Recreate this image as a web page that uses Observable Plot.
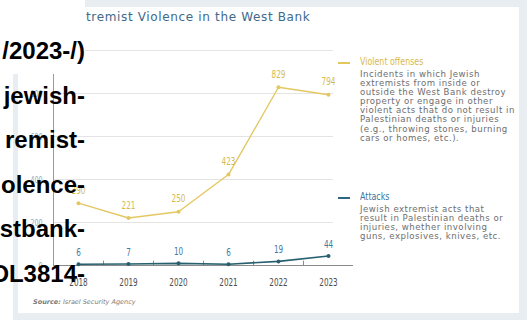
<!DOCTYPE html>
<html>
<head>
<meta charset="utf-8">
<script src="https://cdn.jsdelivr.net/npm/d3@7"></script>
<script src="https://cdn.jsdelivr.net/npm/@observablehq/plot@0.6"></script>
<style>
  html, body { margin: 0; padding: 0; background: #ffffff; width: 531px; height: 320px; overflow: hidden; position: relative; }
  .abs { position: absolute; }
  #frame { left: 13px; top: 0; width: 514px; height: 320px; background: #e8edf2; }
  #card { left: 18px; top: 7px; width: 501px; height: 306px; background: #ffffff; }
  #chart { left: 0; top: 0; }
  #title { left: 70px; top: 10px; font: 12px "DejaVu Sans", sans-serif; letter-spacing: 0.65px; color: #41698a; white-space: nowrap; }
  .leg { font-family: "DejaVu Sans", sans-serif; font-size: 8.6px; letter-spacing: 0.5px; line-height: 9.1px; color: #6e6e6e; white-space: nowrap; }
  .legtitle { font-family: "DejaVu Sans", sans-serif; font-size: 11px; white-space: nowrap; transform: scaleX(0.72); transform-origin: 0 50%; }
  .dash { height: 2px; width: 12px; }
  #source { left: 33px; top: 298px; font: italic 6.5px "DejaVu Sans", sans-serif; color: #7a7a7a; white-space: nowrap; }
  #whitebox { left: 0; top: 0; width: 85px; height: 74px; background: #ffffff; }
  .over { position: absolute; right: 446px; white-space: nowrap; font: bold 24px "Liberation Sans", Arial, sans-serif; line-height: 24px; color: #000; }
</style>
</head>
<body>
<div id="frame" class="abs"></div>
<div id="card" class="abs"></div>
<div id="title" class="abs">Extremist Violence in the West Bank</div>
<div id="chart" class="abs"></div>
<div id="legend1" class="abs" style="left:338px; top:56px;">
  <div class="dash abs" style="left:0; top:6px; background:#e2c75c;"></div>
  <div class="legtitle abs" style="left:22px; top:-1px; color:#d8b94a;">Violent offenses</div>
  <div class="leg abs" style="left:22px; top:14px;">Incidents in which Jewish<br>extremists from inside or<br>outside the West Bank destroy<br>property or engage in other<br>violent acts that do not result in<br>Palestinian deaths or injuries<br>(e.g., throwing stones, burning<br>cars or homes, etc.).</div>
</div>
<div id="legend2" class="abs" style="left:338px; top:191px;">
  <div class="dash abs" style="left:0; top:6px; background:#2c6680;"></div>
  <div class="legtitle abs" style="left:22px; top:-1px; color:#3c74a0;">Attacks</div>
  <div class="leg abs" style="left:22px; top:14px;">Jewish extremist acts that<br>result in Palestinian deaths or<br>injuries, whether involving<br>guns, explosives, knives, etc.</div>
</div>
<div id="source" class="abs"><b>Source:</b> Israel Security Agency</div>
<div id="whitebox" class="abs"></div>
<div class="over" style="top:39px;">/2023-/)</div>
<div class="over" style="top:84px;">jewish-</div>
<div class="over" style="top:128px;">remist-</div>
<div class="over" style="top:173px;">olence-</div>
<div class="over" style="top:217px;">stbank-</div>
<div class="over" style="top:262px;">DL3814-</div>
<script>
const years = [2018, 2019, 2020, 2021, 2022, 2023];
const violentOffenses = [290, 221, 250, 423, 829, 794];
const attacks = [6, 7, 10, 6, 19, 44];
const yTicks = [0, 200, 400, 600, 800, 1000];
const gridValues = [200, 400, 600, 800, 1000];
const yearBounds = [2018.5, 2019.5, 2020.5, 2021.5, 2022.5];

const table = years.map((year, i) => ({year, violent: violentOffenses[i], attacks: attacks[i]}));

const labelFont = "'DejaVu Sans',sans-serif";
const gold = "#e3c862";
const goldText = "#d6bb4c";
const teal = "#27606f";
const attackText = "#4679a3";
const xMin = 2017.5, xMax = 2023.5, gridEnd = 2023.1;

const chart = Plot.plot({
  width: 531,
  height: 320,
  marginLeft: 53,
  marginRight: 178,
  marginTop: 50,
  marginBottom: 55,
  x: {domain: [xMin, xMax], axis: null, label: null},
  y: {domain: [0, 1000], axis: null, label: null},
  style: {background: "transparent", overflow: "visible"},
  marks: [
    Plot.ruleY(gridValues, {x1: xMin, x2: gridEnd, stroke: "#e4e4e4", strokeWidth: 1}),
    Plot.axisY(yTicks, {className: "cond", tickSize: 0, tickPadding: 11, label: null, tickFormat: d3.format(","), fill: "#8fadc6", fontSize: 9.5, fontFamily: labelFont}),
    Plot.ruleX([xMin], {y1: 0, y2: 1000, stroke: "#9a9a9a", strokeWidth: 1}),
    Plot.ruleY([0], {x1: xMin, x2: xMax, stroke: "#8a8a8a", strokeWidth: 1}),
    Plot.ruleX(yearBounds, {y1: 0, y2: 20, stroke: "#8a8a8a", strokeWidth: 1}),
    Plot.axisX(years, {className: "cond", tickSize: 0, tickPadding: 13, label: null, tickFormat: d => String(d), fill: "#4d4d4d", fontSize: 11, fontFamily: labelFont}),
    Plot.line(table, {x: "year", y: "violent", stroke: gold, strokeWidth: 1.4}),
    Plot.dot(table, {x: "year", y: "violent", r: 2, fill: gold, stroke: "none"}),
    Plot.text(table, {className: "cond", x: "year", y: "violent", text: d => String(d.violent), dy: -13, fill: goldText, fontSize: 11, fontFamily: labelFont}),
    Plot.line(table, {x: "year", y: "attacks", stroke: teal, strokeWidth: 1.6}),
    Plot.dot(table, {x: "year", y: "attacks", r: 2, fill: teal, stroke: "none"}),
    Plot.text(table, {className: "cond", x: "year", y: "attacks", text: d => String(d.attacks), dy: -12, fill: attackText, fontSize: 11, fontFamily: labelFont})
  ]
});
document.getElementById("chart").appendChild(chart);
// narrow the number labels to imitate the condensed typeface of the original
chart.querySelectorAll(".cond text").forEach(t => {
  const len = t.getComputedTextLength();
  if (len > 0) {
    t.setAttribute("textLength", (len * 0.66).toFixed(2));
    t.setAttribute("lengthAdjust", "spacingAndGlyphs");
  }
});
</script>
</body>
</html>
